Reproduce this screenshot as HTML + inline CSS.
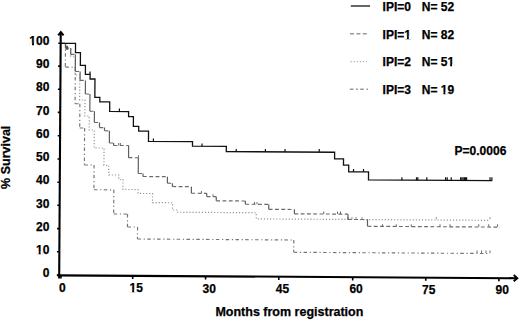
<!DOCTYPE html>
<html><head><meta charset="utf-8"><title>Survival by IPI</title>
<style>html,body{margin:0;padding:0;background:#fff;width:520px;height:320px;overflow:hidden}svg{display:block}</style>
</head><body>
<svg width="520" height="320" viewBox="0 0 520 320"><rect width="520" height="320" fill="#fff"/><g transform="rotate(0.3610 60.0 275.0)"><path d="M59.54,43.38 H64.06 V48.95 H69.35 V56.17 H73.78 V74.89 H78.52 V99.86 H83.85 V115.83 H88.29 V129.80 H93.39 V147.75 H103.25 V165.01 H108.09 V174.66 H118.13 V179.12 H122.43 V189.06 H137.47 V192.96 H152.02 V202.05 H172.07 V209.28 H177.10 V211.51 H255.88 V217.63 H489.64" fill="none" stroke="#959595" stroke-width="1.2" stroke-dasharray="1.2 1.9"/><path d="M59.54,43.38H64.02M64.02,67.14H74.01M74.01,103.64H78.80M78.80,127.86H83.69M83.69,164.82H93.39M93.39,189.52H113.29M113.29,213.62H127.16M127.16,226.54H137.24M137.24,238.52H293.57M293.57,250.81H489.85M64.02,43.38V67.14M74.01,67.14V103.64M78.80,103.64V127.86M83.69,127.86V164.82M93.39,164.82V189.52M113.29,189.52V213.62M127.16,213.62V226.54M137.24,226.54V238.52M293.57,238.52V250.81" fill="none" stroke="#747474" stroke-width="1.15" stroke-dasharray="3.5 2.7 1.2 2.4"/><path d="M59.54,43.38H64.06M64.06,47.95H69.34M69.34,54.32H74.06M74.06,71.39H78.85M78.85,80.26H84.22M84.22,93.83H88.81M88.81,111.05H93.40M93.40,122.27H98.56M98.56,127.34H103.58M103.58,130.50H108.53M108.53,142.68H112.78M112.78,145.12H127.82M127.82,157.24H137.61M137.61,172.99H142.37M142.37,176.00H166.80M166.80,182.51H171.83M171.83,185.83H190.86M190.86,192.42H206.20M206.20,195.65H215.77M215.77,199.82H244.94M244.94,203.06H268.32M268.32,208.00H294.00M294.00,212.35H347.63M347.63,217.62H367.17M367.17,224.35H499.68" fill="none" stroke="#6a6a6a" stroke-width="1.15" stroke-dasharray="3.8 2.5"/><path d="M64.06,43.38V47.95M69.34,47.95V54.32M74.06,54.32V71.39M78.85,71.39V80.26M84.22,80.26V93.83M88.81,93.83V111.05M93.40,111.05V122.27M98.56,122.27V127.34M103.58,127.34V130.50M108.53,130.50V142.68M112.78,142.68V145.12M127.82,145.12V157.24M137.61,157.24V172.99M142.37,172.99V176.00M166.80,176.00V182.51M171.83,182.51V185.83M190.86,185.83V192.42M206.20,192.42V195.65M215.77,195.65V199.82M244.94,199.82V203.06M268.32,203.06V208.00M294.00,208.00V212.35M347.63,212.35V217.62M367.17,217.62V224.35" fill="none" stroke="#5e5e5e" stroke-width="1.2"/><g stroke="#959595" stroke-width="1"><line x1="347.15" y1="217.49" x2="347.15" y2="215.09"/><line x1="351.65" y1="217.46" x2="351.65" y2="215.06"/><line x1="355.65" y1="217.44" x2="355.65" y2="215.04"/><line x1="361.65" y1="217.40" x2="361.65" y2="215.00"/><line x1="435.90" y1="216.93" x2="435.90" y2="214.53"/><line x1="489.65" y1="216.59" x2="489.65" y2="214.19"/></g><g stroke="#747474" stroke-width="1"><line x1="476.86" y1="250.27" x2="476.86" y2="247.87"/><line x1="481.36" y1="250.24" x2="481.36" y2="247.84"/><line x1="485.86" y1="250.22" x2="485.86" y2="247.82"/><line x1="489.86" y1="250.19" x2="489.86" y2="247.79"/></g><g stroke="#6a6a6a" stroke-width="1"><line x1="117.88" y1="145.13" x2="117.88" y2="142.73"/><line x1="119.58" y1="145.12" x2="119.58" y2="142.72"/><line x1="137.66" y1="157.21" x2="137.66" y2="154.81"/><line x1="172.04" y1="185.89" x2="172.04" y2="183.49"/><line x1="200.89" y1="192.41" x2="200.89" y2="190.01"/><line x1="212.51" y1="195.64" x2="212.51" y2="193.24"/><line x1="254.05" y1="203.07" x2="254.05" y2="200.67"/><line x1="256.55" y1="203.06" x2="256.55" y2="200.66"/><line x1="323.37" y1="212.34" x2="323.37" y2="209.94"/><line x1="337.12" y1="212.25" x2="337.12" y2="209.85"/><line x1="340.12" y1="212.23" x2="340.12" y2="209.83"/><line x1="347.65" y1="217.69" x2="347.65" y2="215.29"/><line x1="382.20" y1="224.67" x2="382.20" y2="222.27"/><line x1="395.95" y1="224.58" x2="395.95" y2="222.18"/><line x1="410.95" y1="224.49" x2="410.95" y2="222.09"/><line x1="439.70" y1="224.31" x2="439.70" y2="221.91"/><line x1="449.70" y1="224.24" x2="449.70" y2="221.84"/><line x1="478.45" y1="224.06" x2="478.45" y2="221.66"/><line x1="488.45" y1="224.00" x2="488.45" y2="221.60"/><line x1="497.20" y1="223.94" x2="497.20" y2="221.54"/></g><path d="M59.54,43.35 H74.07 V52.49 H79.04 V65.16 H84.11 V74.13 H88.85 V78.80 H93.72 V97.16 H98.70 V101.62 H108.64 V111.13 H127.59 V116.15 H132.43 V125.82 H137.78 V130.67 H147.63 V140.80 H191.67 V145.36 H225.51 V150.51 H333.85 V157.04 H342.79 V163.40 H348.03 V170.02 H367.88 V177.87 H491.69" fill="none" stroke="#111" stroke-width="1.3"/><g stroke="#111" stroke-width="1.2"><line x1="88.74" y1="74.11" x2="88.74" y2="71.21"/><line x1="118.37" y1="111.13" x2="118.37" y2="108.23"/><line x1="152.56" y1="140.91" x2="152.56" y2="138.01"/><line x1="201.19" y1="145.41" x2="201.19" y2="142.51"/><line x1="235.42" y1="150.79" x2="235.42" y2="147.89"/><line x1="264.62" y1="150.61" x2="264.62" y2="147.71"/><line x1="284.22" y1="150.48" x2="284.22" y2="147.58"/><line x1="318.43" y1="150.37" x2="318.43" y2="147.47"/><line x1="352.85" y1="170.05" x2="352.85" y2="167.15"/><line x1="362.85" y1="169.99" x2="362.85" y2="167.09"/><line x1="401.30" y1="178.05" x2="401.30" y2="175.15"/><line x1="415.90" y1="177.95" x2="415.90" y2="175.05"/><line x1="417.20" y1="177.95" x2="417.20" y2="175.05"/><line x1="426.20" y1="177.89" x2="426.20" y2="174.99"/><line x1="445.00" y1="177.77" x2="445.00" y2="174.87"/><line x1="446.60" y1="177.76" x2="446.60" y2="174.86"/><line x1="450.60" y1="177.74" x2="450.60" y2="174.84"/><line x1="460.00" y1="177.68" x2="460.00" y2="174.78"/><line x1="461.30" y1="177.67" x2="461.30" y2="174.77"/><line x1="462.50" y1="177.66" x2="462.50" y2="174.76"/><line x1="463.80" y1="177.65" x2="463.80" y2="174.75"/><line x1="465.00" y1="177.64" x2="465.00" y2="174.74"/><line x1="466.00" y1="177.64" x2="466.00" y2="174.74"/><line x1="489.40" y1="177.49" x2="489.40" y2="174.59"/><line x1="491.30" y1="177.48" x2="491.30" y2="174.58"/></g><path d="M65.6,45.8 V49.6" stroke="#333" stroke-width="1.6"/><line x1="57.3" y1="275.35" x2="517" y2="275.35" stroke="#000" stroke-width="2.1"/><line x1="59.2" y1="278.5" x2="59.2" y2="32.5" stroke="#000" stroke-width="2.1"/><polyline points="57.300000000000004,34.6 59.300000000000004,32.0 61.400000000000006,34.6" fill="none" stroke="#000" stroke-width="2" stroke-linecap="square"/><polyline points="514.5,272.85 517.3,275.35 514.5,277.85" fill="none" stroke="#000" stroke-width="2" stroke-linecap="square"/><line x1="56.80" y1="43.2" x2="59.20" y2="43.2" stroke="#000" stroke-width="1.6"/><line x1="56.80" y1="66.1" x2="59.20" y2="66.1" stroke="#000" stroke-width="1.6"/><line x1="56.80" y1="89.2" x2="59.20" y2="89.2" stroke="#000" stroke-width="1.6"/><line x1="56.80" y1="112.4" x2="59.20" y2="112.4" stroke="#000" stroke-width="1.6"/><line x1="56.80" y1="135.7" x2="59.20" y2="135.7" stroke="#000" stroke-width="1.6"/><line x1="56.80" y1="159.0" x2="59.20" y2="159.0" stroke="#000" stroke-width="1.6"/><line x1="56.80" y1="182.2" x2="59.20" y2="182.2" stroke="#000" stroke-width="1.6"/><line x1="56.80" y1="205.3" x2="59.20" y2="205.3" stroke="#000" stroke-width="1.6"/><line x1="56.80" y1="228.6" x2="59.20" y2="228.6" stroke="#000" stroke-width="1.6"/><line x1="56.80" y1="251.8" x2="59.20" y2="251.8" stroke="#000" stroke-width="1.6"/><line x1="56.80" y1="275.1" x2="59.20" y2="275.1" stroke="#000" stroke-width="1.6"/><line x1="61.0" y1="275.35" x2="61.0" y2="278.55" stroke="#000" stroke-width="1.6"/><line x1="132.7" y1="275.35" x2="132.7" y2="278.55" stroke="#000" stroke-width="1.6"/><line x1="205.6" y1="275.35" x2="205.6" y2="278.55" stroke="#000" stroke-width="1.6"/><line x1="278.8" y1="275.35" x2="278.8" y2="278.55" stroke="#000" stroke-width="1.6"/><line x1="352.7" y1="275.35" x2="352.7" y2="278.55" stroke="#000" stroke-width="1.6"/><line x1="425.8" y1="275.35" x2="425.8" y2="278.55" stroke="#000" stroke-width="1.6"/><line x1="498.9" y1="275.35" x2="498.9" y2="278.55" stroke="#000" stroke-width="1.6"/></g><g font-family="Liberation Sans, sans-serif" font-weight="bold" font-size="12" fill="#000" stroke="#000" stroke-width="0.25"><text x="49.4" y="45.4" text-anchor="end">100</text><text x="49.4" y="68.3" text-anchor="end">90</text><text x="49.4" y="91.4" text-anchor="end">80</text><text x="49.4" y="114.6" text-anchor="end">70</text><text x="49.4" y="137.9" text-anchor="end">60</text><text x="49.4" y="161.2" text-anchor="end">50</text><text x="49.4" y="184.4" text-anchor="end">40</text><text x="49.4" y="207.5" text-anchor="end">30</text><text x="49.4" y="230.8" text-anchor="end">20</text><text x="49.4" y="254.0" text-anchor="end">10</text><text x="49.4" y="277.3" text-anchor="end">0</text><text x="62.4" y="291.5" text-anchor="middle">0</text><text x="136.2" y="292.0" text-anchor="middle">15</text><text x="209.3" y="292.5" text-anchor="middle">30</text><text x="282.5" y="292.9" text-anchor="middle">45</text><text x="356.1" y="293.4" text-anchor="middle">60</text><text x="428.8" y="293.9" text-anchor="middle">75</text><text x="502.2" y="294.4" text-anchor="middle">90</text><text x="289.4" y="316" text-anchor="middle" font-size="12.5">Months from registration</text><text transform="translate(9.9,157.3) rotate(-90)" text-anchor="middle" font-size="12.5">% Survival</text><text x="454.6" y="154.7">P=0.0006</text><text x="382.6" y="10.9">IPI=0</text><text x="421.8" y="10.9">N= 52</text><text x="382.6" y="38.5">IPI=1</text><text x="421.8" y="38.5">N= 82</text><text x="382.6" y="66.4">IPI=2</text><text x="421.8" y="66.4">N= 51</text><text x="382.6" y="94.2">IPI=3</text><text x="421.8" y="94.2">N= 19</text></g><line x1="350.8" y1="6.0" x2="370.1" y2="6.0" stroke="#555" stroke-width="1.8"/><line x1="350" y1="33.8" x2="367" y2="33.8" stroke="#999" stroke-width="1.5" stroke-dasharray="4 2.4"/><line x1="350.5" y1="61.6" x2="367" y2="61.6" stroke="#b0b0b0" stroke-width="1.2" stroke-dasharray="1.2 1.9"/><line x1="349.8" y1="89.3" x2="368" y2="89.3" stroke="#999" stroke-width="1.5" stroke-dasharray="3.6 2.6 1.8 2.4"/><g fill="#fff"><rect x="29.52" y="43.10" width="2.47" height="2.9"/><rect x="33.97" y="43.10" width="2.15" height="2.9"/><rect x="36.19" y="251.70" width="2.47" height="2.9"/><rect x="40.64" y="251.70" width="2.15" height="2.9"/><rect x="129.67" y="289.70" width="2.47" height="2.9"/><rect x="134.12" y="289.70" width="2.15" height="2.9"/><rect x="404.42" y="36.20" width="2.47" height="2.9"/><rect x="408.87" y="36.20" width="2.15" height="2.9"/><rect x="447.62" y="64.10" width="2.47" height="2.9"/><rect x="452.07" y="64.10" width="2.15" height="2.9"/><rect x="440.95" y="91.90" width="2.47" height="2.9"/><rect x="445.40" y="91.90" width="2.15" height="2.9"/></g></svg>
</body></html>
